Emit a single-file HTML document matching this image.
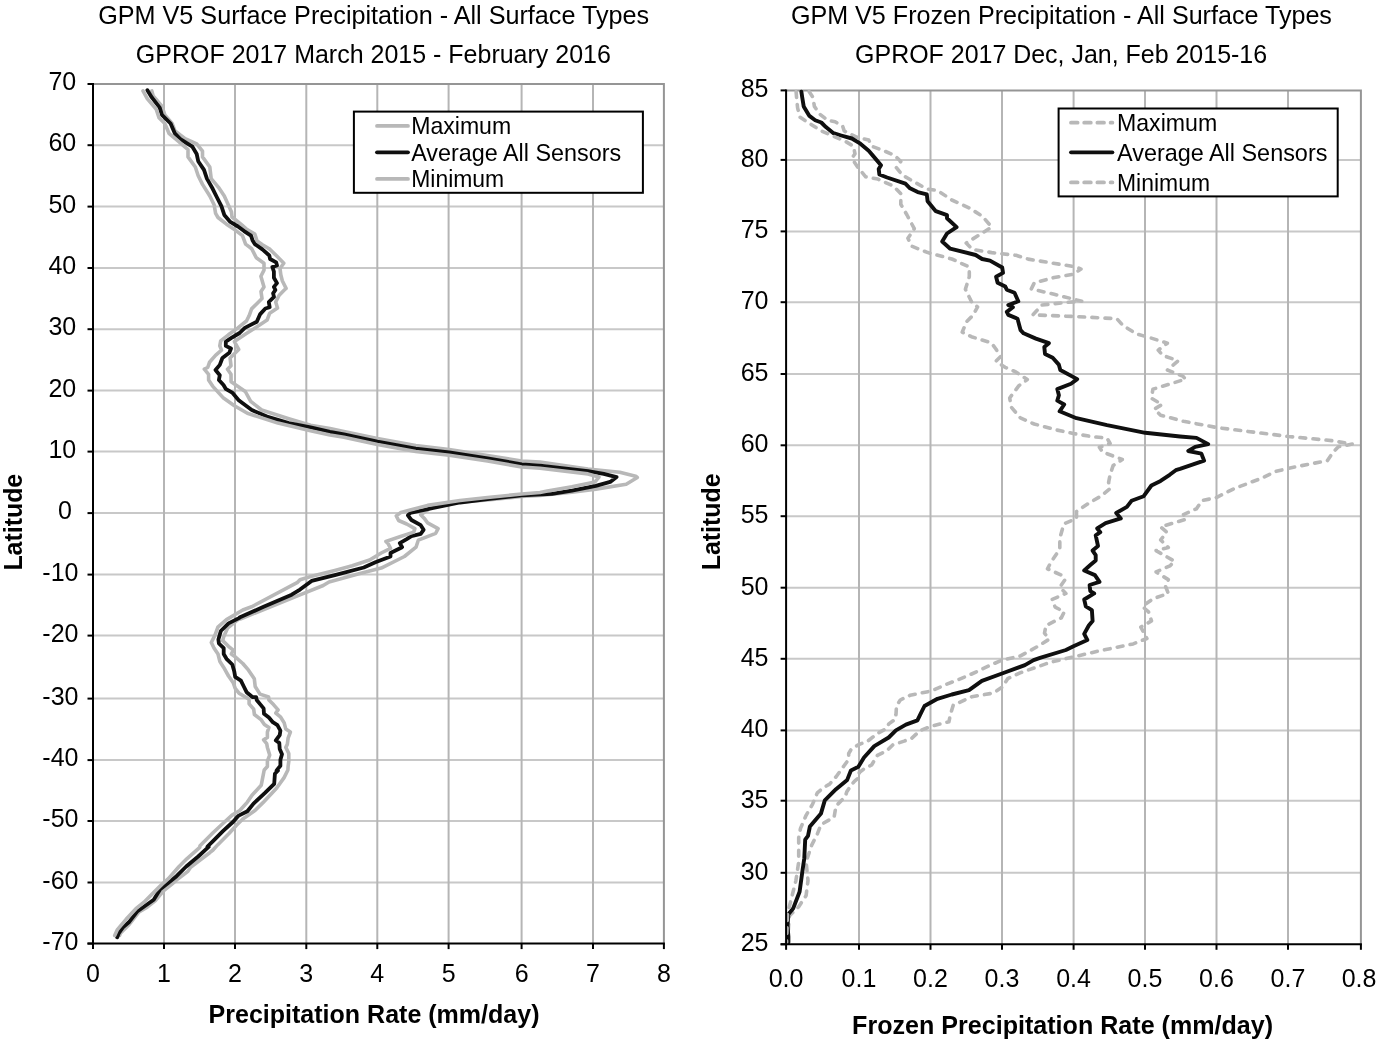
<!DOCTYPE html>
<html><head><meta charset="utf-8"><style>
html,body{margin:0;padding:0;background:#fff;overflow:hidden;width:1379px;height:1046px;}
svg{display:block;filter:grayscale(100%);}
text{font-family:"Liberation Sans", sans-serif;fill:#000;}
</style></head><body>
<svg width="1379" height="1046" viewBox="0 0 1379 1046">
<rect x="0" y="0" width="1379" height="1046" fill="#fff"/>

<line x1="93" y1="145.20" x2="663.9" y2="145.20" stroke="#c8c8c8" stroke-width="2"/>
<line x1="93" y1="206.60" x2="663.9" y2="206.60" stroke="#c8c8c8" stroke-width="2"/>
<line x1="93" y1="268.00" x2="663.9" y2="268.00" stroke="#c8c8c8" stroke-width="2"/>
<line x1="93" y1="329.20" x2="663.9" y2="329.20" stroke="#c8c8c8" stroke-width="2"/>
<line x1="93" y1="390.60" x2="663.9" y2="390.60" stroke="#c8c8c8" stroke-width="2"/>
<line x1="93" y1="451.60" x2="663.9" y2="451.60" stroke="#c8c8c8" stroke-width="2"/>
<line x1="93" y1="513.10" x2="663.9" y2="513.10" stroke="#c8c8c8" stroke-width="2"/>
<line x1="93" y1="574.60" x2="663.9" y2="574.60" stroke="#c8c8c8" stroke-width="2"/>
<line x1="93" y1="635.60" x2="663.9" y2="635.60" stroke="#c8c8c8" stroke-width="2"/>
<line x1="93" y1="698.60" x2="663.9" y2="698.60" stroke="#c8c8c8" stroke-width="2"/>
<line x1="93" y1="760.10" x2="663.9" y2="760.10" stroke="#c8c8c8" stroke-width="2"/>
<line x1="93" y1="821.00" x2="663.9" y2="821.00" stroke="#c8c8c8" stroke-width="2"/>
<line x1="93" y1="882.50" x2="663.9" y2="882.50" stroke="#c8c8c8" stroke-width="2"/>
<line x1="164.00" y1="84" x2="164.00" y2="943.6" stroke="#b5b5b5" stroke-width="2"/>
<line x1="235.00" y1="84" x2="235.00" y2="943.6" stroke="#b5b5b5" stroke-width="2"/>
<line x1="306.30" y1="84" x2="306.30" y2="943.6" stroke="#b5b5b5" stroke-width="2"/>
<line x1="377.30" y1="84" x2="377.30" y2="943.6" stroke="#b5b5b5" stroke-width="2"/>
<line x1="448.60" y1="84" x2="448.60" y2="943.6" stroke="#b5b5b5" stroke-width="2"/>
<line x1="521.60" y1="84" x2="521.60" y2="943.6" stroke="#b5b5b5" stroke-width="2"/>
<line x1="593.00" y1="84" x2="593.00" y2="943.6" stroke="#b5b5b5" stroke-width="2"/>
<polyline points="93,84 663.9,84 663.9,943.6" fill="none" stroke="#959595" stroke-width="2"/>
<line x1="786.1" y1="159.90" x2="1360.9" y2="159.90" stroke="#c8c8c8" stroke-width="2"/>
<line x1="786.1" y1="231.40" x2="1360.9" y2="231.40" stroke="#c8c8c8" stroke-width="2"/>
<line x1="786.1" y1="302.20" x2="1360.9" y2="302.20" stroke="#c8c8c8" stroke-width="2"/>
<line x1="786.1" y1="374.00" x2="1360.9" y2="374.00" stroke="#c8c8c8" stroke-width="2"/>
<line x1="786.1" y1="445.30" x2="1360.9" y2="445.30" stroke="#c8c8c8" stroke-width="2"/>
<line x1="786.1" y1="516.20" x2="1360.9" y2="516.20" stroke="#c8c8c8" stroke-width="2"/>
<line x1="786.1" y1="587.70" x2="1360.9" y2="587.70" stroke="#c8c8c8" stroke-width="2"/>
<line x1="786.1" y1="658.80" x2="1360.9" y2="658.80" stroke="#c8c8c8" stroke-width="2"/>
<line x1="786.1" y1="730.40" x2="1360.9" y2="730.40" stroke="#c8c8c8" stroke-width="2"/>
<line x1="786.1" y1="800.70" x2="1360.9" y2="800.70" stroke="#c8c8c8" stroke-width="2"/>
<line x1="786.1" y1="872.80" x2="1360.9" y2="872.80" stroke="#c8c8c8" stroke-width="2"/>
<line x1="859.00" y1="90.4" x2="859.00" y2="944.3" stroke="#b5b5b5" stroke-width="2"/>
<line x1="930.50" y1="90.4" x2="930.50" y2="944.3" stroke="#b5b5b5" stroke-width="2"/>
<line x1="1002.00" y1="90.4" x2="1002.00" y2="944.3" stroke="#b5b5b5" stroke-width="2"/>
<line x1="1073.60" y1="90.4" x2="1073.60" y2="944.3" stroke="#b5b5b5" stroke-width="2"/>
<line x1="1145.00" y1="90.4" x2="1145.00" y2="944.3" stroke="#b5b5b5" stroke-width="2"/>
<line x1="1216.50" y1="90.4" x2="1216.50" y2="944.3" stroke="#b5b5b5" stroke-width="2"/>
<line x1="1288.00" y1="90.4" x2="1288.00" y2="944.3" stroke="#b5b5b5" stroke-width="2"/>
<polyline points="786.1,90.4 1360.9,90.4 1360.9,944.3" fill="none" stroke="#959595" stroke-width="2"/>
<path d="M151.8,90.9 L153.2,96.0 L161.9,106.1 L164.8,114.8 L172.1,123.5 L175.0,130.8 L185.1,138.7 L196.7,143.8 L202.5,151.1 L202.5,156.9 L209.8,167.0 L211.2,178.6 L218.5,187.3 L224.3,196.0 L231.5,212.0 L232.0,217.0 L241.8,224.9 L247.1,229.5 L254.8,234.1 L257.1,241.0 L262.4,244.8 L270.1,249.4 L277.0,256.3 L283.8,263.2 L280.0,268.5 L280.8,274.7 L282.3,280.8 L286.1,288.4 L284.3,290.0 L279.2,295.2 L275.7,302.0 L277.5,308.1 L269.7,313.2 L267.1,320.1 L255.1,327.9 L245.6,333.9 L234.4,341.6 L238.7,349.4 L230.1,358.0 L231.0,365.7 L227.5,369.2 L231.0,374.3 L231.1,381.8 L245.3,391.5 L250.7,401.3 L261.6,410.0 L288.8,418.7 L310.5,425.3 L330.0,428.5 L343.9,431.5 L377.4,438.5 L415.7,445.5 L449.2,449.5 L487.5,455.5 L521.7,461.0 L540.0,462.0 L587.9,469.1 L619.8,472.3 L635.7,476.3 L637.3,477.5 L626.2,484.3 L595.8,489.1 L571.9,492.3 L540.0,495.5 L521.7,496.5 L487.5,500.0 L449.2,503.0 L430.0,507.0 L427.6,510.1 L420.7,514.7 L424.1,518.2 L427.6,522.8 L438.1,528.6 L435.7,533.3 L418.3,540.2 L416.0,547.2 L404.4,556.5 L381.2,568.1 L358.0,573.9 L329.0,582.0 L323.2,585.5 L300.0,594.8 L240.9,618.8 L238.0,619.6 L227.5,628.2 L223.7,636.8 L222.7,640.6 L228.5,646.3 L233.2,650.2 L231.3,654.0 L235.2,656.8 L242.8,663.5 L248.5,670.2 L254.3,678.8 L255.2,686.5 L260.0,694.1 L268.6,697.0 L268.9,700.0 L273.5,704.6 L278.1,709.9 L275.8,713.0 L280.4,716.8 L284.2,722.9 L285.8,729.1 L290.4,732.1 L288.1,738.2 L287.3,744.4 L285.8,747.4 L288.8,753.5 L288.8,761.2 L288.1,766.5 L287.9,770.0 L284.1,777.6 L276.5,788.3 L262.7,802.9 L255.0,810.5 L242.8,818.9 L236.7,825.0 L229.0,833.5 L217.6,844.9 L213.0,850.0 L209.7,852.7 L199.8,860.3 L190.6,867.2 L187.9,871.4 L178.1,878.7 L171.6,884.4 L163.5,890.9 L155.4,900.6 L147.2,907.1 L139.1,912.0 L129.4,924.2 L120.4,933.1 L119.6,935.5" fill="none" stroke="#b8b8b8" stroke-width="3.6" stroke-linejoin="round" stroke-linecap="round"/>
<path d="M147.4,90.2 L151.8,97.4 L159.7,107.6 L161.9,114.8 L170.6,123.5 L175.0,133.7 L180.8,139.5 L188.0,143.8 L192.4,146.7 L196.7,154.0 L198.2,161.2 L204.0,169.9 L206.9,178.6 L212.7,188.8 L217.0,197.5 L221.4,206.2 L224.3,214.9 L230.3,221.9 L238.0,226.5 L244.1,231.1 L251.0,235.7 L252.5,240.2 L254.8,244.1 L262.4,249.4 L269.3,255.5 L270.1,259.0 L276.2,262.4 L277.0,265.5 L272.4,267.0 L273.9,271.6 L273.9,277.7 L277.0,283.1 L273.9,286.9 L275.4,290.0 L273.1,293.4 L274.0,296.9 L268.8,302.0 L269.7,307.2 L265.4,308.5 L260.2,314.1 L256.8,321.8 L244.8,327.9 L239.6,333.0 L231.0,338.2 L225.8,341.6 L225.8,345.9 L231.0,348.5 L229.3,352.8 L222.4,358.0 L219.8,364.9 L215.5,370.0 L219.8,375.2 L218.9,380.0 L223.5,385.0 L225.7,388.8 L232.2,392.6 L238.7,400.2 L251.8,410.0 L267.0,416.6 L288.8,423.1 L310.5,427.4 L330.0,431.8 L343.9,434.4 L377.4,441.5 L415.7,448.7 L449.2,452.3 L487.5,458.3 L521.7,464.3 L540.0,465.6 L563.9,468.3 L587.9,471.1 L603.8,473.9 L616.6,477.1 L610.2,481.9 L595.8,485.9 L571.9,490.7 L552.0,493.9 L521.7,495.4 L487.5,499.0 L460.0,502.5 L433.4,507.8 L410.2,513.0 L407.9,515.3 L411.4,520.0 L420.7,525.2 L423.6,529.8 L420.7,533.9 L411.4,536.2 L406.7,539.1 L399.8,543.1 L402.1,547.2 L390.5,553.0 L390.5,556.5 L375.4,562.3 L363.8,567.5 L334.8,575.1 L311.6,580.9 L300.0,589.6 L291.7,594.7 L263.6,606.8 L239.5,617.5 L239.9,617.6 L228.5,623.4 L220.8,631.0 L218.4,639.6 L218.9,643.5 L223.7,648.2 L223.7,654.0 L226.5,658.8 L232.3,664.5 L234.2,671.2 L235.2,676.9 L240.9,680.7 L243.8,686.5 L246.6,692.2 L252.4,697.0 L256.2,697.2 L256.7,700.0 L260.5,704.6 L263.6,708.4 L264.0,713.8 L268.9,717.6 L272.8,722.2 L277.4,725.2 L280.4,730.6 L279.7,735.2 L275.8,740.5 L279.3,742.8 L279.7,749.0 L282.0,754.3 L280.4,759.7 L280.4,765.8 L276.6,770.4 L278.0,770.5 L274.9,773.8 L274.2,783.8 L265.0,792.9 L253.5,803.6 L247.4,811.3 L238.2,815.9 L232.9,822.0 L222.9,831.2 L213.0,841.1 L207.5,846.5 L208.9,846.6 L198.2,856.5 L186.2,866.5 L176.5,876.2 L168.4,882.7 L160.2,889.2 L153.7,899.8 L145.6,905.5 L137.5,911.2 L129.4,921.7 L122.9,927.4 L118.8,933.1 L117.2,937.2" fill="none" stroke="#0f0f0f" stroke-width="3.8" stroke-linejoin="round" stroke-linecap="round"/>
<path d="M143.0,90.9 L147.4,98.9 L156.1,109.0 L159.0,117.7 L164.8,123.5 L169.2,133.7 L177.9,140.9 L188.0,149.6 L188.0,156.9 L195.3,167.0 L198.2,175.7 L202.5,184.4 L209.8,196.0 L214.1,204.7 L215.6,213.4 L218.0,217.5 L226.5,224.2 L235.6,230.3 L242.5,235.7 L245.6,244.1 L251.7,248.7 L256.3,257.8 L264.0,263.2 L264.0,270.1 L260.9,276.2 L262.4,281.5 L264.0,286.9 L261.0,291.5 L262.0,298.6 L256.8,303.8 L251.6,308.9 L249.1,315.8 L246.5,321.0 L237.9,327.9 L228.4,334.8 L220.7,340.8 L219.8,345.9 L221.5,350.2 L215.5,355.4 L209.5,362.3 L207.7,367.5 L204.3,369.2 L208.6,374.3 L208.6,380.0 L212.6,386.1 L223.5,398.1 L234.4,405.7 L247.4,413.3 L277.9,423.1 L310.5,430.7 L330.0,435.0 L343.9,437.2 L377.4,444.5 L415.7,451.5 L449.2,455.2 L487.5,461.0 L521.7,467.0 L540.0,468.3 L587.9,473.9 L599.0,477.1 L595.0,481.9 L571.9,486.7 L547.3,491.0 L540.0,492.5 L521.7,494.0 L487.5,497.5 L460.0,500.5 L427.6,505.4 L410.2,510.1 L400.9,512.4 L396.3,515.9 L398.6,520.5 L406.7,524.0 L414.9,528.6 L413.7,532.1 L399.8,536.8 L385.9,541.4 L388.2,543.7 L390.5,548.4 L381.2,553.0 L369.6,560.0 L352.2,565.8 L334.8,570.4 L311.6,576.2 L300.0,579.7 L297.1,582.7 L251.6,606.8 L242.8,610.0 L226.5,619.6 L217.9,627.2 L215.1,634.9 L211.3,642.5 L214.1,648.2 L218.0,654.0 L219.9,661.6 L223.7,667.4 L228.5,676.0 L233.2,682.7 L235.2,688.4 L239.0,693.2 L248.5,698.9 L249.1,700.0 L249.1,703.8 L253.7,709.2 L254.4,714.5 L261.3,719.9 L264.4,724.5 L268.9,727.5 L267.4,732.1 L267.4,737.5 L263.6,739.8 L266.7,743.6 L267.4,747.4 L269.7,755.1 L267.4,761.2 L267.4,766.5 L264.2,770.0 L262.7,777.6 L261.2,785.3 L252.0,795.2 L247.4,802.1 L239.8,810.5 L232.1,815.1 L222.9,823.5 L213.0,832.7 L200.0,845.7 L199.8,847.3 L186.8,858.8 L179.1,866.5 L168.4,878.7 L161.9,884.4 L152.1,894.1 L144.0,902.2 L135.9,908.7 L126.1,919.3 L117.2,929.9 L114.7,935.5" fill="none" stroke="#b8b8b8" stroke-width="3.6" stroke-linejoin="round" stroke-linecap="round"/>
<path d="M809.1,91.6 L812.9,97.2 L814.4,106.4 L819.8,114.1 L827.4,120.2 L835.1,121.7 L842.7,126.3 L844.2,130.9 L856.5,137.0 L868.7,140.1 L871.8,146.2 L884.0,150.8 L894.7,155.4 L900.8,161.5 L896.3,167.6 L902.4,175.2 L916.1,182.9 L926.8,189.0 L937.6,190.5 L951.8,200.0 L969.3,208.0 L982.1,216.0 L991.7,227.1 L978.9,235.1 L966.2,243.1 L972.5,249.5 L991.7,252.6 L1016.0,255.3 L1028.2,259.1 L1051.2,262.9 L1075.6,266.8 L1081.0,269.1 L1072.6,274.4 L1054.2,277.5 L1034.3,282.8 L1031.3,288.9 L1054.2,294.3 L1081.7,301.2 L1063.4,302.7 L1042.0,305.0 L1032.8,314.9 L1074.1,316.5 L1116.9,318.7 L1123.0,325.6 L1136.8,334.0 L1150.6,337.9 L1167.4,343.2 L1158.2,350.1 L1162.8,355.4 L1178.1,360.8 L1167.4,370.0 L1182.7,376.1 L1185.7,379.1 L1152.9,389.2 L1151.4,398.3 L1162.1,404.5 L1154.4,409.1 L1160.6,415.2 L1183.5,421.3 L1217.2,427.6 L1288.8,436.5 L1331.6,440.6 L1352.2,444.1 L1338.4,446.8 L1332.9,452.4 L1327.4,460.6 L1288.8,468.2 L1275.1,471.6 L1262.7,477.8 L1235.1,488.2 L1215.8,497.8 L1202.0,500.6 L1196.5,508.8 L1183.5,514.6 L1186.5,519.1 L1160.6,526.8 L1166.7,532.2 L1160.7,539.9 L1168.3,547.5 L1156.1,550.6 L1174.5,561.3 L1169.9,565.9 L1156.1,572.0 L1168.3,579.6 L1165.3,585.8 L1168.3,593.4 L1153.0,598.8 L1142.3,606.4 L1148.5,611.8 L1151.5,620.9 L1140.8,627.1 L1146.9,638.5 L1133.2,643.9 L1096.5,651.5 L1073.5,656.9 L1050.6,662.2 L1020.0,672.9 L1007.7,678.7 L1002.0,687.3 L993.4,693.1 L971.9,696.7 L953.2,705.3 L950.4,714.6 L948.9,721.8 L931.7,726.1 L920.0,730.6 L911.8,738.2 L904.1,741.1 L892.7,744.9 L886.9,750.7 L877.4,755.4 L871.6,765.0 L864.0,768.8 L859.2,772.7 L860.2,776.5 L854.4,781.3 L850.6,786.0 L846.8,791.8 L845.3,796.6 L836.0,806.0 L834.1,817.2 L821.0,824.6 L817.3,834.0 L811.7,845.1 L806.1,861.9 L808.0,880.6 L806.1,895.5 L798.7,906.7 L789.3,916.0 L787.5,942.6" fill="none" stroke="#b8b8b8" stroke-width="3.6" stroke-linejoin="round" stroke-linecap="round" stroke-dasharray="5.8,7.3"/>
<path d="M801.4,91.8 L802.2,97.2 L803.7,106.4 L809.1,115.6 L815.2,120.2 L821.3,122.5 L825.9,127.1 L833.5,133.2 L841.2,135.5 L851.9,138.5 L859.5,143.1 L868.7,150.8 L873.3,156.1 L881.0,165.3 L878.7,169.1 L879.4,174.5 L887.1,177.5 L905.4,183.7 L910.0,188.3 L917.7,192.1 L926.8,194.4 L927.6,201.3 L935.8,211.2 L947.0,215.2 L947.0,218.3 L956.6,227.1 L947.0,233.5 L942.2,241.5 L950.2,248.7 L975.7,255.0 L982.1,259.0 L990.0,260.6 L1002.2,267.5 L1003.0,272.9 L996.1,276.7 L997.6,282.8 L1005.3,286.6 L1006.8,289.7 L1014.5,292.8 L1018.3,301.2 L1008.3,305.0 L1012.9,307.3 L1006.8,311.9 L1008.3,314.9 L1017.5,318.7 L1020.6,330.2 L1023.6,333.3 L1035.9,338.6 L1048.9,343.2 L1044.3,347.0 L1045.0,353.9 L1052.7,357.7 L1058.8,364.6 L1060.3,370.0 L1077.2,379.1 L1071.0,383.7 L1057.3,389.1 L1058.9,395.3 L1057.3,400.6 L1064.2,404.5 L1059.6,411.3 L1076.5,418.2 L1107.0,425.1 L1145.3,432.8 L1180.0,436.5 L1196.5,437.9 L1208.2,444.1 L1195.2,446.8 L1188.3,451.0 L1201.4,453.7 L1204.1,460.6 L1180.0,468.9 L1175.8,470.2 L1169.7,474.8 L1160.6,480.9 L1151.4,485.5 L1143.7,496.2 L1131.5,500.8 L1126.9,506.9 L1116.2,513.0 L1120.8,518.4 L1105.6,523.1 L1097.2,528.4 L1100.3,532.2 L1095.7,535.3 L1098.0,546.0 L1092.6,550.6 L1095.7,555.2 L1095.7,560.5 L1090.3,565.1 L1084.2,570.5 L1094.9,575.1 L1099.5,581.9 L1089.6,585.0 L1090.3,591.1 L1094.2,593.4 L1084.2,599.5 L1085.8,606.4 L1091.9,610.2 L1092.6,620.9 L1088.8,625.5 L1084.2,633.9 L1087.3,640.0 L1073.5,646.2 L1065.9,650.0 L1040.0,657.9 L1033.6,660.1 L1024.9,665.1 L1003.4,673.0 L981.9,680.9 L969.0,690.2 L951.8,694.5 L937.5,698.8 L924.5,706.0 L920.2,714.6 L917.4,720.3 L905.9,724.6 L895.9,730.4 L888.7,737.5 L874.3,746.1 L864.0,757.5 L858.4,766.8 L850.9,770.5 L847.2,779.9 L836.0,789.2 L824.8,800.4 L821.0,813.4 L809.9,826.5 L808.0,835.8 L805.2,839.6 L804.3,858.2 L802.4,871.3 L799.6,891.8 L793.1,908.6 L788.4,914.2 L787.5,925.4 L788.4,936.6 L788.4,942.4" fill="none" stroke="#0f0f0f" stroke-width="3.9" stroke-linejoin="round" stroke-linecap="round"/>
<path d="M796.1,91.6 L796.8,100.3 L797.6,107.9 L799.9,117.1 L809.1,123.2 L821.3,130.9 L833.5,136.2 L845.8,141.6 L853.4,146.2 L855.0,153.8 L851.9,158.4 L858.0,167.6 L865.7,176.8 L877.9,179.1 L893.2,186.0 L900.8,193.6 L900.8,204.3 L907.0,215.0 L914.3,228.7 L907.9,238.3 L911.9,246.3 L927.9,252.6 L951.8,259.0 L969.3,267.0 L969.3,276.6 L965.4,289.3 L972.5,303.7 L977.6,306.9 L973.0,315.3 L966.8,321.4 L962.2,332.1 L971.4,336.7 L991.3,342.9 L995.9,349.0 L1000.5,356.6 L995.9,361.2 L1005.1,367.3 L1015.8,371.9 L1027.3,379.6 L1018.9,385.7 L1009.7,398.0 L1011.2,407.1 L1020.4,417.9 L1034.2,424.0 L1057.1,430.1 L1073.4,433.5 L1091.7,436.6 L1107.0,438.1 L1110.1,443.5 L1099.4,447.3 L1102.4,451.9 L1122.3,459.5 L1113.1,465.6 L1110.1,474.8 L1108.6,482.4 L1110.1,488.6 L1100.9,496.2 L1090.2,502.3 L1076.5,511.5 L1076.5,518.4 L1064.2,523.7 L1062.8,527.6 L1059.8,538.4 L1059.8,549.1 L1050.6,562.8 L1047.5,568.9 L1061.3,575.1 L1065.1,579.6 L1059.8,587.3 L1065.9,593.4 L1052.1,599.5 L1055.2,607.2 L1064.3,611.8 L1061.3,617.9 L1046.0,625.5 L1044.5,633.2 L1049.1,639.3 L1036.8,646.9 L1020.0,656.1 L1002.0,660.1 L989.1,665.8 L967.6,675.9 L946.1,684.5 L931.7,690.9 L910.2,695.2 L900.3,700.0 L896.5,705.7 L896.0,714.3 L895.5,719.1 L888.8,723.9 L886.0,728.7 L877.4,733.5 L867.8,741.1 L858.2,744.9 L851.5,748.8 L848.7,753.5 L848.7,759.3 L843.9,766.0 L836.3,776.5 L829.6,784.1 L822.9,788.0 L817.3,792.9 L812.6,804.1 L806.1,815.3 L800.5,828.4 L798.7,837.7 L798.7,861.9 L795.9,880.6 L791.2,899.3 L787.5,914.2 L786.5,942.6" fill="none" stroke="#b8b8b8" stroke-width="3.6" stroke-linejoin="round" stroke-linecap="round" stroke-dasharray="5.8,7.3"/>
<line x1="93" y1="83" x2="93" y2="944.6" stroke="#000" stroke-width="2"/>
<line x1="87.5" y1="943.6" x2="664.9" y2="943.6" stroke="#000" stroke-width="2"/>
<line x1="87.5" y1="84.00" x2="93" y2="84.00" stroke="#000" stroke-width="2"/>
<text x="76.2" y="90.1" font-size="25" text-anchor="end">70</text>
<line x1="87.5" y1="145.20" x2="93" y2="145.20" stroke="#000" stroke-width="2"/>
<text x="76.2" y="151.3" font-size="25" text-anchor="end">60</text>
<line x1="87.5" y1="206.60" x2="93" y2="206.60" stroke="#000" stroke-width="2"/>
<text x="76.2" y="212.7" font-size="25" text-anchor="end">50</text>
<line x1="87.5" y1="268.00" x2="93" y2="268.00" stroke="#000" stroke-width="2"/>
<text x="76.2" y="274.1" font-size="25" text-anchor="end">40</text>
<line x1="87.5" y1="329.20" x2="93" y2="329.20" stroke="#000" stroke-width="2"/>
<text x="76.2" y="335.3" font-size="25" text-anchor="end">30</text>
<line x1="87.5" y1="390.60" x2="93" y2="390.60" stroke="#000" stroke-width="2"/>
<text x="76.2" y="396.7" font-size="25" text-anchor="end">20</text>
<line x1="87.5" y1="451.60" x2="93" y2="451.60" stroke="#000" stroke-width="2"/>
<text x="76.2" y="457.7" font-size="25" text-anchor="end">10</text>
<line x1="87.5" y1="513.10" x2="93" y2="513.10" stroke="#000" stroke-width="2"/>
<text x="71.8" y="519.2" font-size="25" text-anchor="end">0</text>
<line x1="87.5" y1="574.60" x2="93" y2="574.60" stroke="#000" stroke-width="2"/>
<text x="78.5" y="580.7" font-size="25" text-anchor="end">-10</text>
<line x1="87.5" y1="635.60" x2="93" y2="635.60" stroke="#000" stroke-width="2"/>
<text x="78.5" y="641.7" font-size="25" text-anchor="end">-20</text>
<line x1="87.5" y1="698.60" x2="93" y2="698.60" stroke="#000" stroke-width="2"/>
<text x="78.5" y="704.7" font-size="25" text-anchor="end">-30</text>
<line x1="87.5" y1="760.10" x2="93" y2="760.10" stroke="#000" stroke-width="2"/>
<text x="78.5" y="766.2" font-size="25" text-anchor="end">-40</text>
<line x1="87.5" y1="821.00" x2="93" y2="821.00" stroke="#000" stroke-width="2"/>
<text x="78.5" y="827.1" font-size="25" text-anchor="end">-50</text>
<line x1="87.5" y1="882.50" x2="93" y2="882.50" stroke="#000" stroke-width="2"/>
<text x="78.5" y="888.6" font-size="25" text-anchor="end">-60</text>
<line x1="87.5" y1="943.60" x2="93" y2="943.60" stroke="#000" stroke-width="2"/>
<text x="78.5" y="949.7" font-size="25" text-anchor="end">-70</text>
<line x1="93.00" y1="943.6" x2="93.00" y2="949.1" stroke="#000" stroke-width="2"/>
<text x="93.00" y="981.5" font-size="25" text-anchor="middle">0</text>
<line x1="164.00" y1="943.6" x2="164.00" y2="949.1" stroke="#000" stroke-width="2"/>
<text x="164.00" y="981.5" font-size="25" text-anchor="middle">1</text>
<line x1="235.00" y1="943.6" x2="235.00" y2="949.1" stroke="#000" stroke-width="2"/>
<text x="235.00" y="981.5" font-size="25" text-anchor="middle">2</text>
<line x1="306.30" y1="943.6" x2="306.30" y2="949.1" stroke="#000" stroke-width="2"/>
<text x="306.30" y="981.5" font-size="25" text-anchor="middle">3</text>
<line x1="377.30" y1="943.6" x2="377.30" y2="949.1" stroke="#000" stroke-width="2"/>
<text x="377.30" y="981.5" font-size="25" text-anchor="middle">4</text>
<line x1="448.60" y1="943.6" x2="448.60" y2="949.1" stroke="#000" stroke-width="2"/>
<text x="448.60" y="981.5" font-size="25" text-anchor="middle">5</text>
<line x1="521.60" y1="943.6" x2="521.60" y2="949.1" stroke="#000" stroke-width="2"/>
<text x="521.60" y="981.5" font-size="25" text-anchor="middle">6</text>
<line x1="593.00" y1="943.6" x2="593.00" y2="949.1" stroke="#000" stroke-width="2"/>
<text x="593.00" y="981.5" font-size="25" text-anchor="middle">7</text>
<line x1="663.90" y1="943.6" x2="663.90" y2="949.1" stroke="#000" stroke-width="2"/>
<text x="663.90" y="981.5" font-size="25" text-anchor="middle">8</text>
<line x1="786.1" y1="89.4" x2="786.1" y2="945.3" stroke="#000" stroke-width="2"/>
<line x1="780.6" y1="944.3" x2="1361.9" y2="944.3" stroke="#000" stroke-width="2"/>
<line x1="780.6" y1="90.40" x2="786.1" y2="90.40" stroke="#000" stroke-width="2"/>
<text x="768.5" y="97.3" font-size="25" text-anchor="end">85</text>
<line x1="780.6" y1="159.90" x2="786.1" y2="159.90" stroke="#000" stroke-width="2"/>
<text x="768.5" y="166.8" font-size="25" text-anchor="end">80</text>
<line x1="780.6" y1="231.40" x2="786.1" y2="231.40" stroke="#000" stroke-width="2"/>
<text x="768.5" y="238.3" font-size="25" text-anchor="end">75</text>
<line x1="780.6" y1="302.20" x2="786.1" y2="302.20" stroke="#000" stroke-width="2"/>
<text x="768.5" y="309.1" font-size="25" text-anchor="end">70</text>
<line x1="780.6" y1="374.00" x2="786.1" y2="374.00" stroke="#000" stroke-width="2"/>
<text x="768.5" y="380.9" font-size="25" text-anchor="end">65</text>
<line x1="780.6" y1="445.30" x2="786.1" y2="445.30" stroke="#000" stroke-width="2"/>
<text x="768.5" y="452.2" font-size="25" text-anchor="end">60</text>
<line x1="780.6" y1="516.20" x2="786.1" y2="516.20" stroke="#000" stroke-width="2"/>
<text x="768.5" y="523.1" font-size="25" text-anchor="end">55</text>
<line x1="780.6" y1="587.70" x2="786.1" y2="587.70" stroke="#000" stroke-width="2"/>
<text x="768.5" y="594.6" font-size="25" text-anchor="end">50</text>
<line x1="780.6" y1="658.80" x2="786.1" y2="658.80" stroke="#000" stroke-width="2"/>
<text x="768.5" y="665.7" font-size="25" text-anchor="end">45</text>
<line x1="780.6" y1="730.40" x2="786.1" y2="730.40" stroke="#000" stroke-width="2"/>
<text x="768.5" y="737.3" font-size="25" text-anchor="end">40</text>
<line x1="780.6" y1="800.70" x2="786.1" y2="800.70" stroke="#000" stroke-width="2"/>
<text x="768.5" y="807.6" font-size="25" text-anchor="end">35</text>
<line x1="780.6" y1="872.80" x2="786.1" y2="872.80" stroke="#000" stroke-width="2"/>
<text x="768.5" y="879.7" font-size="25" text-anchor="end">30</text>
<line x1="780.6" y1="944.30" x2="786.1" y2="944.30" stroke="#000" stroke-width="2"/>
<text x="768.5" y="951.2" font-size="25" text-anchor="end">25</text>
<line x1="786.10" y1="944.3" x2="786.10" y2="949.8" stroke="#000" stroke-width="2"/>
<text x="786.10" y="986.8" font-size="25" text-anchor="middle">0.0</text>
<line x1="859.00" y1="944.3" x2="859.00" y2="949.8" stroke="#000" stroke-width="2"/>
<text x="859.00" y="986.8" font-size="25" text-anchor="middle">0.1</text>
<line x1="930.50" y1="944.3" x2="930.50" y2="949.8" stroke="#000" stroke-width="2"/>
<text x="930.50" y="986.8" font-size="25" text-anchor="middle">0.2</text>
<line x1="1002.00" y1="944.3" x2="1002.00" y2="949.8" stroke="#000" stroke-width="2"/>
<text x="1002.00" y="986.8" font-size="25" text-anchor="middle">0.3</text>
<line x1="1073.60" y1="944.3" x2="1073.60" y2="949.8" stroke="#000" stroke-width="2"/>
<text x="1073.60" y="986.8" font-size="25" text-anchor="middle">0.4</text>
<line x1="1145.00" y1="944.3" x2="1145.00" y2="949.8" stroke="#000" stroke-width="2"/>
<text x="1145.00" y="986.8" font-size="25" text-anchor="middle">0.5</text>
<line x1="1216.50" y1="944.3" x2="1216.50" y2="949.8" stroke="#000" stroke-width="2"/>
<text x="1216.50" y="986.8" font-size="25" text-anchor="middle">0.6</text>
<line x1="1288.00" y1="944.3" x2="1288.00" y2="949.8" stroke="#000" stroke-width="2"/>
<text x="1288.00" y="986.8" font-size="25" text-anchor="middle">0.7</text>
<line x1="1360.90" y1="944.3" x2="1360.90" y2="949.8" stroke="#000" stroke-width="2"/>
<text x="1359.10" y="986.8" font-size="25" text-anchor="middle">0.8</text>
<text x="373.7" y="24" font-size="25.8" text-anchor="middle" textLength="551" lengthAdjust="spacingAndGlyphs">GPM V5 Surface Precipitation - All Surface Types</text>
<text x="373.35" y="62.6" font-size="25.8" text-anchor="middle" textLength="475" lengthAdjust="spacingAndGlyphs">GPROF 2017 March 2015 - February 2016</text>
<text x="1061.45" y="24" font-size="25.8" text-anchor="middle" textLength="541" lengthAdjust="spacingAndGlyphs">GPM V5 Frozen Precipitation - All Surface Types</text>
<text x="1061.1" y="62.6" font-size="25.8" text-anchor="middle" textLength="412" lengthAdjust="spacingAndGlyphs">GPROF 2017 Dec, Jan, Feb 2015-16</text>
<text x="374.05" y="1023.4" font-size="25.5" font-weight="bold" text-anchor="middle" textLength="331" lengthAdjust="spacingAndGlyphs">Precipitation Rate (mm/day)</text>
<text x="1062.6" y="1034.2" font-size="25.5" font-weight="bold" text-anchor="middle" textLength="421" lengthAdjust="spacingAndGlyphs">Frozen Precipitation Rate (mm/day)</text>
<text transform="translate(22.4,522.2) rotate(-90)" x="0" y="0" font-size="25.5" font-weight="bold" text-anchor="middle" textLength="96.8" lengthAdjust="spacingAndGlyphs">Latitude</text>
<text transform="translate(720,521.8) rotate(-90)" x="0" y="0" font-size="25.5" font-weight="bold" text-anchor="middle" textLength="97" lengthAdjust="spacingAndGlyphs">Latitude</text>
<rect x="353.9" y="111.6" width="289.0" height="81.20000000000002" fill="#fff" stroke="#000" stroke-width="2"/>
<line x1="377" y1="125.9" x2="408" y2="125.9" stroke="#b8b8b8" stroke-width="3.8" stroke-linecap="round"/>
<text x="411.2" y="134.20000000000002" font-size="24.2" textLength="100" lengthAdjust="spacingAndGlyphs">Maximum</text>
<line x1="377" y1="152.3" x2="408" y2="152.3" stroke="#0f0f0f" stroke-width="3.8" stroke-linecap="round"/>
<text x="411.2" y="160.60000000000002" font-size="24.2" textLength="210" lengthAdjust="spacingAndGlyphs">Average All Sensors</text>
<line x1="377" y1="178.9" x2="408" y2="178.9" stroke="#b8b8b8" stroke-width="3.8" stroke-linecap="round"/>
<text x="411.2" y="187.20000000000002" font-size="24.2" textLength="93" lengthAdjust="spacingAndGlyphs">Minimum</text>
<rect x="1058.6" y="108.5" width="279.10000000000014" height="87.9" fill="#fff" stroke="#000" stroke-width="2"/>
<line x1="1071" y1="122.7" x2="1112.4" y2="122.7" stroke="#b8b8b8" stroke-width="3.8" stroke-linecap="round" stroke-dasharray="6.6,6.6"/>
<text x="1117.0" y="131.0" font-size="24.2" textLength="100.2" lengthAdjust="spacingAndGlyphs">Maximum</text>
<line x1="1071" y1="152.3" x2="1112.4" y2="152.3" stroke="#0f0f0f" stroke-width="3.8" stroke-linecap="round"/>
<text x="1117.0" y="160.60000000000002" font-size="24.2" textLength="210.4" lengthAdjust="spacingAndGlyphs">Average All Sensors</text>
<line x1="1071" y1="182.4" x2="1112.4" y2="182.4" stroke="#b8b8b8" stroke-width="3.8" stroke-linecap="round" stroke-dasharray="6.6,6.6"/>
<text x="1117.0" y="190.70000000000002" font-size="24.2" textLength="93" lengthAdjust="spacingAndGlyphs">Minimum</text>
</svg></body></html>
